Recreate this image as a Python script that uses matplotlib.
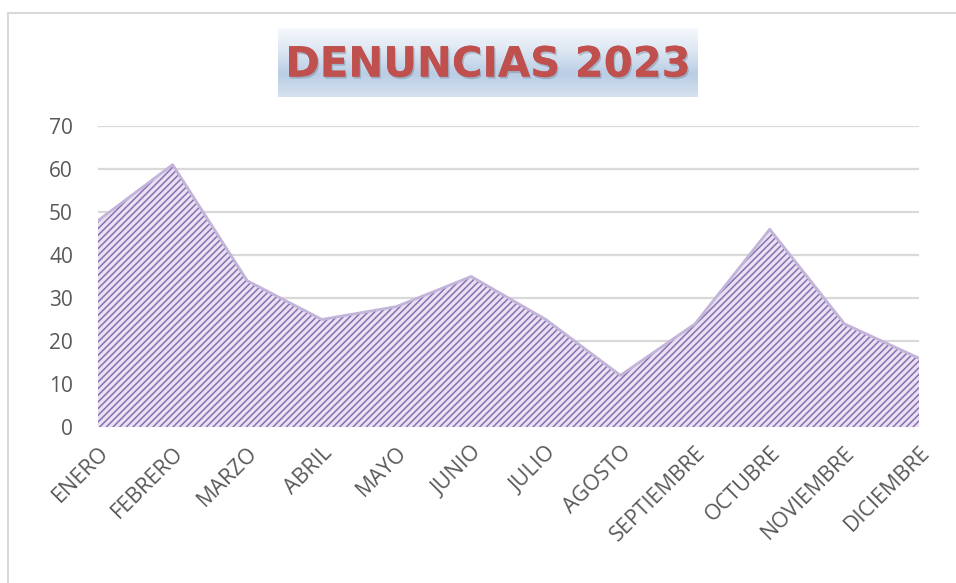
#Denuncias 2023 - area chart
import numpy as np
import matplotlib.pyplot as plt
import matplotlib.patheffects as pe
from matplotlib.colors import LinearSegmentedColormap
from matplotlib.lines import Line2D

meses = ["ENERO", "FEBRERO", "MARZO", "ABRIL", "MAYO", "JUNIO", "JULIO",
         "AGOSTO", "SEPTIEMBRE", "OCTUBRE", "NOVIEMBRE", "DICIEMBRE"]
denuncias = [48, 61, 34, 25, 28, 35, 25, 12, 24, 46, 24, 16]
yticks = [0, 10, 20, 30, 40, 50, 60, 70]

plt.rcParams['font.family'] = ['Open Sans', 'DejaVu Sans']
plt.rcParams['hatch.linewidth'] = 1.1

fig = plt.figure(figsize=(9.56, 5.83), dpi=100)
ax = fig.add_axes([0.1025, 0.2676, 0.8588, 0.5163])

x = np.arange(len(meses))
ax.fill_between(x, denuncias, 0, facecolor='#e8e1f1', edgecolor='#8a6fb3',
                hatch='/////', linewidth=0, zorder=2)
ax.plot(x, denuncias, color='#c3b4d9', lw=2, zorder=3)

ax.set_xlim(0, len(meses) - 1)
ax.set_ylim(0, 70)
ax.set_yticks(yticks)
ax.set_xticks(x)
ax.set_xticklabels(meses, rotation=45, ha='right', va='top',
                   rotation_mode='anchor', color='#595959', fontsize=15.5)
ax.tick_params(axis='y', colors='#595959', labelsize=15, length=0, pad=18)
ax.tick_params(axis='x', length=0, pad=11)
ax.grid(axis='y', color='#d9d9d9', lw=1.6, zorder=0)
ax.set_axisbelow(True)
for s in ax.spines.values():
    s.set_visible(False)

# chart border (top and left visible)
fig.lines.append(Line2D([8 / 956, 1], [1 - 13 / 583] * 2, transform=fig.transFigure,
                        color='#d9d9d9', lw=1.5))
fig.lines.append(Line2D([8 / 956] * 2, [0, 1 - 13 / 583], transform=fig.transFigure,
                        color='#d9d9d9', lw=1.5))

# title box with gradient
tax = fig.add_axes([278 / 956, 1 - 97 / 583, 420 / 956, 69 / 583])
grad = np.linspace(0, 1, 100).reshape(-1, 1)
cmap = LinearSegmentedColormap.from_list('t', ['#f5f8fc', '#dce6f2', '#b9cde5', '#d6e1ef'])
tax.imshow(grad, aspect='auto', cmap=cmap, extent=[0, 1, 0, 1])
tax.set_axis_off()
tax.text(0.5, 0.47, "DENUNCIAS 2023", ha='center', va='center', fontsize=30,
         fontweight='bold', color='#c0504d', family=['DejaVu Sans'],
         path_effects=[pe.withSimplePatchShadow(offset=(1, -1.5), shadow_rgbFace='#4f6275', alpha=0.3),
                       pe.Normal()])

fig.savefig("out.png", dpi=100)
